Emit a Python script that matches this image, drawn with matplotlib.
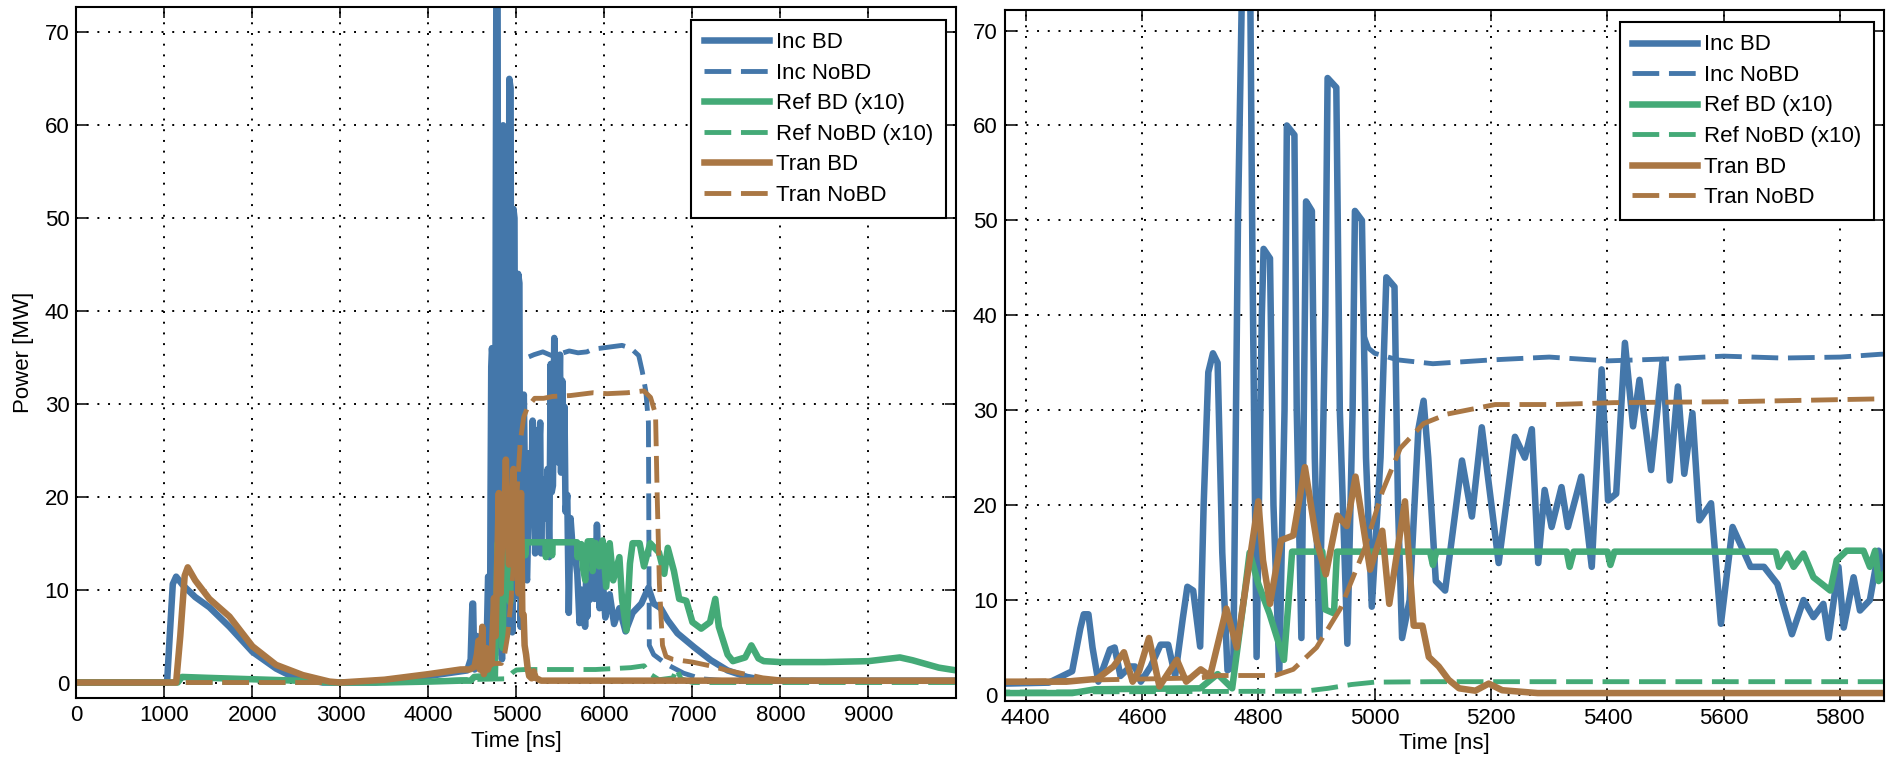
import matplotlib
matplotlib.use('Agg')
import matplotlib.pyplot as plt

plt.rcParams['font.family'] = ['Liberation Sans', 'DejaVu Sans']
plt.rcParams['font.size'] = 16

# ---------------- data ----------------
inc_bd_t = [0, 1030, 1060, 1095, 1133, 1208, 1350, 1511, 1739, 2000, 2269, 2458, 2648, 2800,
            3400, 3700, 4000, 4364, 4440, 4480, 4494, 4500, 4508, 4515, 4525, 4545, 4553, 4563,
            4580, 4588, 4598, 4615, 4632, 4645, 4657, 4670, 4678, 4688, 4700, 4706, 4714, 4722,
            4730, 4738, 4747, 4757, 4765, 4772, 4786, 4790, 4797, 4806, 4809, 4820, 4826, 4836,
            4845, 4849, 4862, 4866, 4874, 4880, 4882, 4892, 4897, 4905, 4915, 4919, 4934, 4940,
            4953, 4962, 4966, 4978, 4985, 4995, 5010, 5020, 5034, 5040, 5047, 5060, 5075, 5084,
            5092, 5105, 5121, 5150, 5167, 5184, 5213, 5241, 5258, 5270,
            5281, 5292, 5304, 5321, 5332, 5355, 5373, 5390, 5401, 5415, 5430, 5444, 5455, 5475,
            5495, 5507, 5521, 5532, 5546, 5558, 5578, 5595, 5615, 5646, 5669, 5692, 5717, 5737,
            5754, 5771, 5780, 5797, 5806, 5823, 5834, 5851, 5866, 5890, 5915, 5945, 5975, 6010,
            6060, 6110, 6170, 6240, 6320, 6420, 6500, 6560, 6640, 6720, 6830, 7020, 7210, 7400,
            7620, 7850, 10000]
inc_bd_v = [0, 0, 5, 10.6, 11.4, 10.5, 9.2, 8.1, 6.0, 3.3, 1.5, 0.6, 0.3, 0,
            0, 0.3, 0.7, 1.2, 1.3, 2.5, 7, 8.5, 8.5, 5, 1.4, 4.8, 5.0, 2.0,
            3.0, 3.0, 1.4, 3, 5.3, 5.3, 2.0, 8, 11.4, 11, 5.1, 20, 34, 36,
            35, 15, 2.6, 3, 50, 75, 75, 45, 4, 40, 47, 46, 20, 2.5,
            30, 60, 59, 30, 6, 40, 52, 51, 25, 6, 40, 65, 64, 30,
            5.4, 30, 51, 50, 25, 9.3, 25, 44, 43, 20, 6, 10, 28, 31,
            25, 12, 11, 24.7, 18.8, 28.2, 13.9, 27.2, 25, 28,
            13.9, 21.6, 17.7, 21.9, 17.7, 23, 13.5, 34.3, 20.5, 21.2, 37.1, 28.3, 33.2, 23.7,
            35.3, 22.6, 32.5, 23.3, 29.7, 18.4, 20.2, 7.5, 17.7, 13.5, 13.5, 11.7, 6.4, 10,
            8.2, 9.6, 6, 13.5, 7.1, 12.4, 8.9, 10, 15.2, 9, 17, 8, 12, 7,
            9.5, 6.3, 8, 5.5, 7.5, 8.5, 10.2, 8.5, 8, 6.7, 5.3, 3.8, 2.4, 1.3,
            0.6, 0.2, 0.2]

# Inc NoBD is hidden under Inc BD before ~4980 ns
inc_nobd_t = [4981, 4990, 5000, 5040, 5100, 5200, 5300, 5400, 5500, 5600, 5700, 5800, 5870,
              5960, 6200, 6300, 6390, 6430, 6470, 6500, 6510, 6560, 6700, 6900, 7100, 7500, 10000]
inc_nobd_v = [38, 36.5, 36, 35.3, 34.9, 35.3, 35.6, 35.2, 35.4, 35.7, 35.5, 35.6, 35.9,
              36, 36.3, 36, 35.2, 33.5, 31.4, 28, 4, 3, 2, 1, 0.4, 0.1, 0.1]

ref_bd_t = [0, 1150, 1200, 1500, 2000, 2500, 2900, 3500, 4000, 4364, 4480, 4520, 4700, 4730,
            4755, 4775, 4785, 4800, 4819, 4844, 4852, 4858, 4910, 4915, 4930, 4935, 5095, 5100,
            5106, 5330, 5335, 5342, 5400, 5405, 5412, 5689, 5695, 5709, 5720, 5737, 5754, 5783,
            5794, 5811, 5840, 5851, 5860, 5866, 5903, 5940, 5980, 6020, 6060, 6100, 6170, 6200,
            6250, 6290, 6320, 6400, 6450, 6520, 6620, 6680, 6720, 6790, 6850, 6930, 7000, 7100,
            7200, 7260, 7300, 7400, 7460, 7600, 7670, 7750, 7810, 8000, 8500, 9000, 9358, 9500,
            9800, 10000]
ref_bd_v = [0, 0, 0.6, 0.5, 0.35, 0.2, 0, 0, 0.1, 0.2, 0.2, 0.6, 0.7, 2.2,
            0.7, 10, 15, 11.7, 8.6, 3.7, 10, 15.1, 15.1, 9, 8.6, 15.1, 15.1, 13.7,
            15.1, 15.1, 13.5, 15.1, 15.1, 13.7, 15.1, 15.1, 13.5, 14.9, 13.5, 14.9, 12.4, 11,
            14.2, 15.2, 15.2, 13.5, 15.2, 12, 15, 12.5, 15.3, 10.3, 15, 11, 13.5, 9,
            5.6, 12.8, 15, 15, 12.5, 15, 14, 11.7, 14.5, 12, 9, 8.8, 6.5, 5.8,
            6.5, 9, 6, 3, 2.3, 2.7, 4, 2.6, 2.3, 2.2, 2.2, 2.3, 2.7, 2.4,
            1.6, 1.3]

ref_nobd_t = [0, 3500, 4000, 4364, 4880, 4920, 4960, 5000, 5100, 5900, 6300, 6450, 6520, 6620,
              6780, 6820, 6870, 7000, 10000]
ref_nobd_v = [0, 0, 0.1, 0.3, 0.4, 0.7, 1.1, 1.35, 1.4, 1.4, 1.6, 1.8, 0.9, 0.3,
              0.5, 1.5, 0.4, 0, 0]

tran_bd_t = [0, 1133, 1180, 1230, 1265, 1350, 1511, 1739, 2000, 2269, 2572, 2875, 3000, 3500,
             4000, 4364, 4470, 4523, 4551, 4569, 4584, 4595, 4612, 4630, 4660, 4676, 4701, 4717,
             4745, 4763, 4800, 4808, 4820, 4839, 4860, 4880, 4900, 4916, 4936, 4952, 4967, 4992,
             5013, 5025, 5052, 5067, 5082, 5093, 5110, 5127, 5145, 5173, 5196, 5219, 5280, 10000]
tran_bd_v = [0, 0, 5, 11.5, 12.4, 11, 9.0, 7.1, 3.9, 1.9, 0.8, 0.1, 0, 0.3,
             0.9, 1.4, 1.4, 1.7, 3, 4.5, 1.4, 2.5, 6, 0.9, 3.7, 1.4, 2.7, 2.0,
             9.1, 5, 20.4, 14.2, 9.6, 16.3, 16.8, 24, 16.3, 12.7, 18.9, 17.8, 23, 13.2,
             17.3, 9.6, 20.4, 7.3, 7.3, 4, 3, 1.6, 0.7, 0.45, 1.2, 0.5, 0.2, 0.2]

tran_nobd_t = [0, 3000, 3500, 4000, 4364, 4700, 4732, 4829, 4860, 4900, 4941, 4982, 5013, 5044,
               5084, 5125, 5207, 5309, 5411, 5615, 5870, 6031, 6259, 6448, 6524, 6581, 6600,
               6625, 6660, 6700, 6775, 7000, 7200, 7400, 7600, 7800, 8000, 8500, 10000]
tran_nobd_v = [0, 0, 0.3, 0.9, 1.4, 1.8, 2.05, 2.05, 2.7, 5, 9.1, 15.3, 21.4, 26,
               28.6, 29.6, 30.6, 30.6, 30.8, 30.9, 31.2, 31.1, 31.2, 31.4, 30.7, 28.9, 20,
               10.6, 4, 2.8, 2.5, 2.2, 1.8, 1.3, 0.9, 0.5, 0.3, 0.1, 0.1]

labels = ['Inc BD', 'Inc NoBD', 'Ref BD (x10)', 'Ref NoBD (x10)', 'Tran BD', 'Tran NoBD']

left_xticks = list(range(0, 10000, 1000))
right_xticks = list(range(4400, 5801, 200))
yticks = list(range(0, 71, 10))

# ---------------- styling ----------------
BLUE = '#4477AA'
GREEN = '#44AA77'
BROWN = '#AA7744'
SOLID_LW = 4.7
DASH_LW = 3.5
DASH = (0, (5.5, 2.0))
FS = 16

series = [
    (inc_bd_t, inc_bd_v, BLUE, '-'),
    (inc_nobd_t, inc_nobd_v, BLUE, DASH),
    (ref_bd_t, ref_bd_v, GREEN, '-'),
    (ref_nobd_t, ref_nobd_v, GREEN, DASH),
    (tran_bd_t, tran_bd_v, BROWN, '-'),
    (tran_nobd_t, tran_nobd_v, BROWN, DASH),
]

fig = plt.figure(figsize=(18.92, 7.63), dpi=100)
ax1 = fig.add_axes([0.0404, 0.0848, 0.4651, 0.9056])
ax2 = fig.add_axes([0.5310, 0.0817, 0.4650, 0.9056])


def draw(ax, xlim, ylim, xticks):
    for (t, v, c, ls), lab in zip(series, labels):
        ax.plot(t, v, color=c, linestyle=ls,
                lw=SOLID_LW if ls == '-' else DASH_LW, label=lab)
    ax.set_xlim(*xlim)
    ax.set_ylim(*ylim)
    ax.set_xticks(xticks)
    ax.set_yticks(yticks)
    ax.grid(True, color='k', linestyle=(0, (1, 4.5)), linewidth=1.4)
    ax.set_axisbelow(True)
    ax.tick_params(direction='in', top=True, right=True, length=8, width=1.1,
                   pad=5, labelsize=FS, colors='k')
    for s in ax.spines.values():
        s.set_linewidth(1.5)
        s.set_color('k')
    leg = ax.legend(loc='upper right', bbox_to_anchor=(0.988, 0.982), borderaxespad=0,
                    frameon=True, fancybox=False, framealpha=1, edgecolor='k',
                    borderpad=0.55, labelspacing=0.43, handlelength=2.95,
                    handletextpad=0.32, fontsize=FS)
    leg.get_frame().set_linewidth(1.5)
    ax.set_xlabel('Time [ns]', fontsize=FS)
    ax.xaxis.set_label_coords(0.5, -0.047)


draw(ax1, (0, 10000), (-1.7, 72.7), left_xticks)
draw(ax2, (4364, 5876), (-0.6, 72.2), right_xticks)
ax1.set_ylabel('Power [MW]', fontsize=FS)
ax1.yaxis.set_label_coords(-0.048, 0.5)

fig.savefig('out.png', dpi=100)
